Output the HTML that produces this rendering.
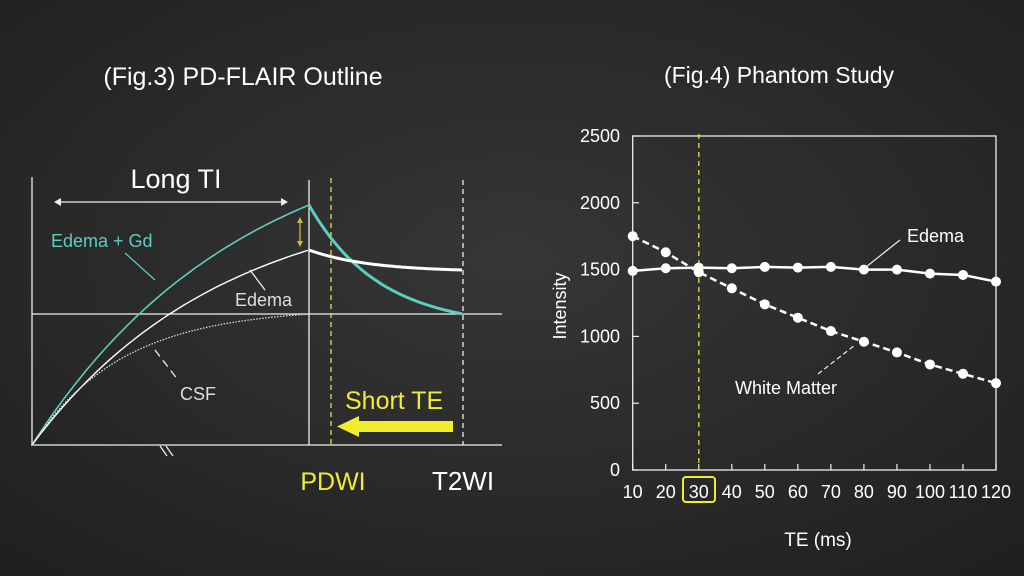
<!DOCTYPE html>
<html><head><meta charset="utf-8"><style>
html,body{margin:0;padding:0;width:1024px;height:576px;overflow:hidden;background:#2b2b2b}
svg{display:block}
text{font-family:"Liberation Sans",sans-serif}
</style></head><body>
<svg id="s" width="1024" height="576" viewBox="0 0 1024 576" xmlns="http://www.w3.org/2000/svg">
<defs>
<radialGradient id="bg" cx="50%" cy="45%" r="75%">
<stop offset="0" stop-color="#363636"/><stop offset="1" stop-color="#1f1f1f"/>
</radialGradient>
</defs>
<rect width="1024" height="576" fill="url(#bg)"/>
<text x="243" y="85" fill="#fff" font-size="25" text-anchor="middle">(Fig.3) PD-FLAIR Outline</text>
<text x="779" y="83" fill="#fff" font-size="23" text-anchor="middle">(Fig.4) Phantom Study</text>

<!-- left chart -->
<g stroke="#eee" stroke-width="1.3" fill="none">
<line x1="32" y1="177" x2="32" y2="445"/>
<line x1="31" y1="445" x2="502" y2="445"/>
<line x1="32" y1="314" x2="502" y2="314"/>
<line x1="309" y1="180" x2="309" y2="445"/>
<line x1="463" y1="180" x2="463" y2="445" stroke-dasharray="5,4"/>
<line x1="160" y1="446" x2="167" y2="456"/><line x1="166" y1="446" x2="173" y2="456"/>
<line x1="58" y1="202" x2="284" y2="202"/>
<line x1="125" y1="253" x2="155" y2="280" stroke="#5ccdc1"/>
<line x1="250" y1="270" x2="265" y2="290"/>
<line x1="155" y1="350" x2="178" y2="380" stroke-dasharray="8,5"/>
</g>
<polygon points="54,202 61,198 61,206" fill="#eee"/>
<polygon points="288,202 281,198 281,206" fill="#eee"/>
<line x1="331" y1="178" x2="331" y2="445" stroke="#e6df4a" stroke-width="1.3" stroke-dasharray="5,4"/>
<line x1="300" y1="221" x2="300" y2="243" stroke="#c9b93c" stroke-width="1.3"/>
<polygon points="300,217 297,223 303,223" fill="#c9b93c"/><polygon points="300,247 297,241 303,241" fill="#c9b93c"/>
<path id="teal" fill="none" stroke="#5ccdc1" stroke-width="1.6"/>
<path id="tealD" fill="none" stroke="#5ccdc1" stroke-width="3"/>
<path id="ed" fill="none" stroke="#fff" stroke-width="1.4"/>
<path id="edD" fill="none" stroke="#fff" stroke-width="3"/>
<path id="csf" fill="none" stroke="#ddd" stroke-width="1.3" stroke-dasharray="1.5,1.5"/>
<text x="176" y="188" fill="#fff" font-size="27" text-anchor="middle">Long TI</text>
<text x="51" y="247" fill="#5ccdc1" font-size="18">Edema + Gd</text>
<text x="235" y="306" fill="#ddd" font-size="18">Edema</text>
<text x="180" y="400" fill="#ddd" font-size="18">CSF</text>
<text x="345" y="409" fill="#f2ec2e" font-size="25">Short TE</text>
<rect x="357" y="421" width="96" height="11" fill="#f2ec2e"/>
<polygon points="337,426.5 359,416 359,437" fill="#f2ec2e"/>
<text x="333" y="490" fill="#f2ec2e" font-size="25" text-anchor="middle">PDWI</text>
<text x="463" y="490" fill="#fff" font-size="26" text-anchor="middle">T2WI</text>

<!-- right chart -->
<rect x="632.7" y="136" width="363.3" height="334" fill="none" stroke="#eee" stroke-width="1.3"/>
<g id="rt" stroke="#eee" stroke-width="1.2"></g>
<line x1="698.8" y1="134" x2="698.8" y2="470" stroke="#e6df4a" stroke-width="1.3" stroke-dasharray="5,4"/>
<g font-size="18" fill="#fff" text-anchor="end" id="yl"></g>
<g font-size="18" fill="#fff" text-anchor="middle" id="xl"></g>
<rect x="683" y="477" width="32" height="25" rx="3" fill="none" stroke="#f2ec2e" stroke-width="2"/>
<text x="566" y="306" fill="#fff" font-size="18" text-anchor="middle" transform="rotate(-90 566 306)">Intensity</text>
<text x="818" y="546" fill="#fff" font-size="19" text-anchor="middle">TE (ms)</text>
<path id="wm" fill="none" stroke="#fff" stroke-width="2.5" stroke-dasharray="7,4"/>
<path id="e2" fill="none" stroke="#fff" stroke-width="2.5"/>
<g id="dots" fill="#fff"></g>
<line x1="866" y1="267" x2="900" y2="240" stroke="#eee" stroke-width="1.2"/>
<line x1="818" y1="374" x2="855" y2="345" stroke="#eee" stroke-width="1.2" stroke-dasharray="5,3"/>
<text x="907" y="242" fill="#fff" font-size="18">Edema</text>
<text x="735" y="394" fill="#fff" font-size="18">White Matter</text>
</svg>
<script>
function sat(A,tau){var p="M32,445";for(var t=0;t<=277;t+=4){p+=" L"+(32+t)+","+(445-A*(1-Math.exp(-t/tau))).toFixed(1);}return p;}
function sat2(A,tau,end){var k=(445-end)/(1-Math.exp(-277/tau));return sat(k,tau);}
document.getElementById('teal').setAttribute('d',sat2(0,210,205));
document.getElementById('ed').setAttribute('d',sat2(0,190,250));
document.getElementById('csf').setAttribute('d',sat2(0,90,314));
function dec(y0,y1,tau){var p="";for(var t=0;t<=154;t+=3){var f=(1-Math.exp(-t/tau))/(1-Math.exp(-154/tau));p+=(t?" L":"M")+(309+t)+","+(y0+(y1-y0)*f).toFixed(1);}return p;}
document.getElementById('tealD').setAttribute('d',dec(205,314,70));
document.getElementById('edD').setAttribute('d',dec(250,270,60));
var X=function(i){return 632.7+i*33.03},Y=function(v){return 470-v*0.1336};
var E=[1490,1510,1515,1510,1520,1515,1520,1500,1500,1470,1460,1410];
var W=[1750,1630,1480,1360,1240,1140,1040,960,880,790,720,650];
var pe="",pw="",d="",rt="",xl="",yl="";
for(var i=0;i<12;i++){pe+=(i?" L":"M")+X(i)+","+Y(E[i]);pw+=(i?" L":"M")+X(i)+","+Y(W[i]);
d+='<circle cx="'+X(i)+'" cy="'+Y(E[i])+'" r="5"/><circle cx="'+X(i)+'" cy="'+Y(W[i])+'" r="5"/>';
rt+='<line x1="'+X(i)+'" y1="470" x2="'+X(i)+'" y2="464"/>';
xl+='<text x="'+X(i)+'" y="498">'+(10*(i+1))+'</text>';}
for(var j=0;j<=5;j++){var y=Y(j*500);rt+='<line x1="632.7" y1="'+y+'" x2="639" y2="'+y+'"/>';yl+='<text x="620" y="'+(y+6)+'">'+(j*500)+'</text>';}
document.getElementById('e2').setAttribute('d',pe);document.getElementById('wm').setAttribute('d',pw);
document.getElementById('dots').innerHTML=d;document.getElementById('rt').innerHTML=rt;
document.getElementById('xl').innerHTML=xl;document.getElementById('yl').innerHTML=yl;
</script>
</body></html>
